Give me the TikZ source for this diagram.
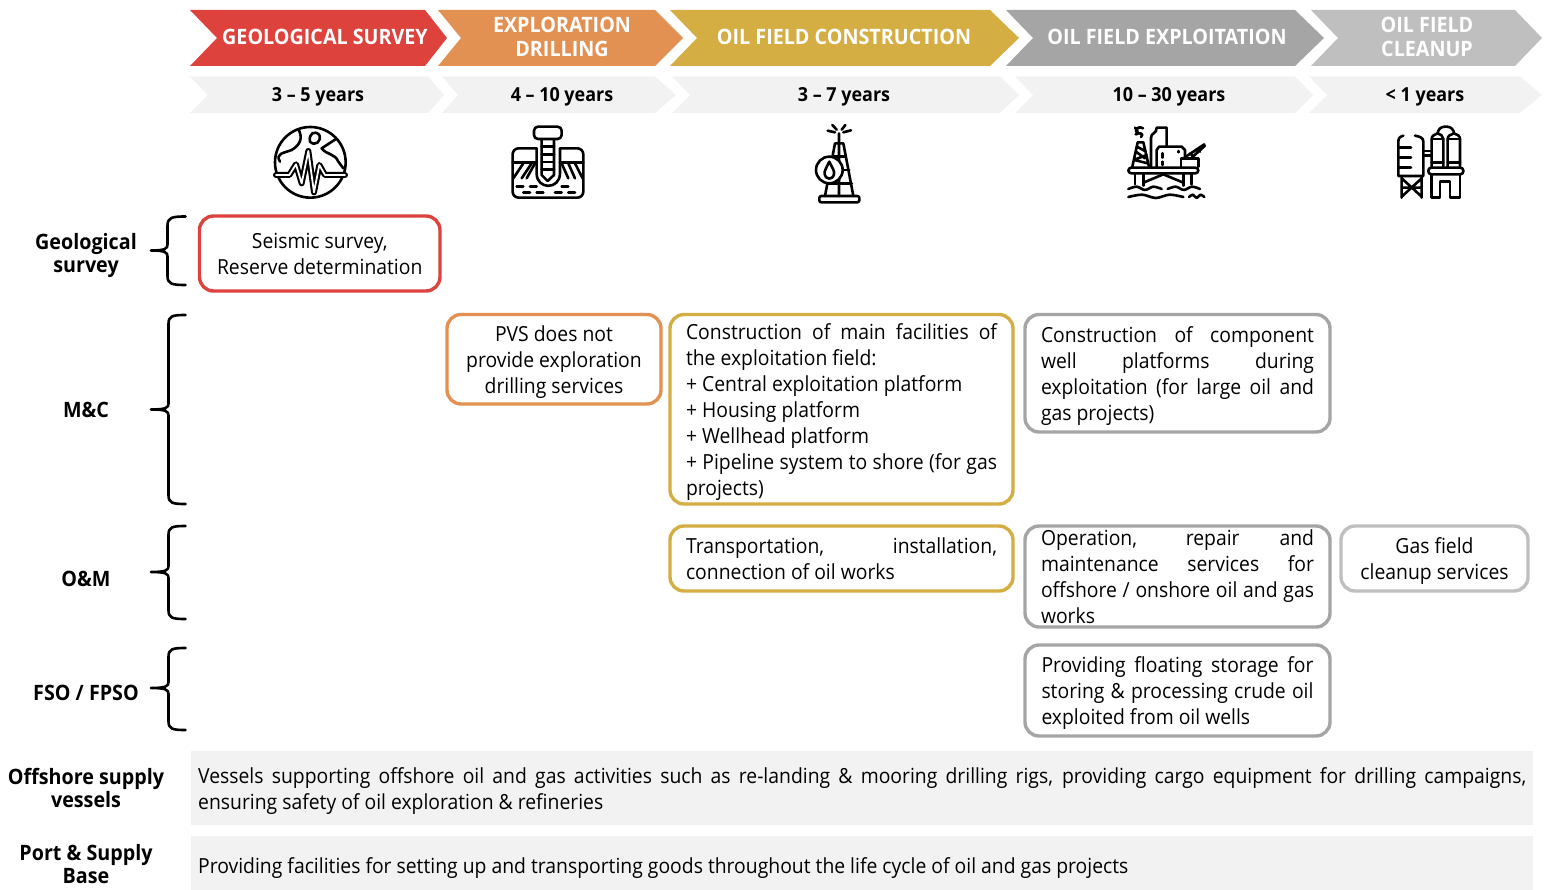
\documentclass[tikz,border=0pt]{standalone}
\usepackage{fontspec}
\setmainfont{Open Sans}[FakeStretch=0.93]
\usetikzlibrary{calc}
\definecolor{cred}{HTML}{DD423C}
\definecolor{corange}{HTML}{E39153}
\definecolor{cgold}{HTML}{D4AE42}
\definecolor{cgray}{HTML}{A5A5A5}
\definecolor{clight}{HTML}{BFBFBF}
\definecolor{cpale}{HTML}{F2F2F2}
\newcommand{\jl}[2][\linewidth]{\makebox[#1][s]{#2}}
\newcommand{\dn}[2][8pt]{\raisebox{-#1}[0pt][0pt]{#2}}
\tikzset{
  hdr/.style={font=\fontsize{21.2}{23.5}\selectfont\bfseries,text=white,align=center,inner sep=0pt},
  yrs/.style={font=\fontsize{19.3}{22}\selectfont\bfseries,text=black,inner sep=0pt},
  lbl/.style={font=\fontsize{21.2}{23}\selectfont\bfseries,text=black,align=center,inner sep=0pt},
  body/.style={font=\fontsize{20.8}{26}\selectfont,text=black},
  card/.style={body,draw=#1,line width=3.4pt,rounded corners=14pt,fill=white,inner sep=0pt,outer sep=0pt},
  brc/.style={draw=black,line width=2.6pt,line cap=round},
  ico/.style={draw=black,line width=2.6pt,line cap=round,line join=round},
  icobox/.style={shift={(#1)},x=0.3333pt,y=-0.3333pt},
}
\newcommand{\cardnode}[7]{% name, colour, x1,y1,x2,y2, text
  \node[card=#2,minimum width=#5pt-#3pt,minimum height=#6pt-#4pt,anchor=north west] (#1) at (#3,#4) {\dn{#7}};}
\newcommand{\mybrace}[5]{% name, x spine, top, mid, bottom
  \coordinate (bt#1) at (185.5,#3); \coordinate (bb#1) at (185.5,#5); \coordinate (bm#1) at (151,#4);
  \draw[brc] (bt#1) .. controls (172,#3) and (#2,#3+1) .. (#2,#3+9) -- (#2,#4-6)
    .. controls (#2,#4-2) and (#2-2,#4) .. (bm#1)
    (bm#1) .. controls (#2-2,#4) and (#2,#4+2) .. (#2,#4+6) -- (#2,#5-9)
    .. controls (#2,#5-1) and (172,#5) .. (bb#1);}
\begin{document}
\begin{tikzpicture}[x=1pt,y=-1pt]
\useasboundingbox (0,0) rectangle (1546,890);
% header chevrons
\fill[cred] (190,10)--(425,10)--(447,38)--(425,66)--(190,66)--(217,38)--cycle;
\fill[corange] (438,10)--(655,10)--(683,38)--(655,66)--(438,66)--(461,38)--cycle;
\fill[cgold] (670,10)--(990,10)--(1019,38)--(990,66)--(670,66)--(697,38)--cycle;
\fill[cgray] (1006,10)--(1295,10)--(1324,38)--(1295,66)--(1006,66)--(1033,38)--cycle;
\fill[clight] (1311,10)--(1515,10)--(1542,38)--(1515,66)--(1311,66)--(1338,38)--cycle;
\node[hdr] (h1) at (325,37) {GEOLOGICAL SURVEY};
\node[hdr] (h2) at (562,37) {EXPLORATION\\DRILLING};
\node[hdr] (h3) at (844,37) {OIL FIELD CONSTRUCTION};
\node[hdr] (h4) at (1167,37) {OIL FIELD EXPLOITATION};
\node[hdr] (h5) at (1427,37) {OIL FIELD\\CLEANUP};
% duration chevrons
\fill[cpale] (190,76.5)--(428,76.5)--(444,95)--(428,113)--(190,113)--(208,95)--cycle;
\fill[cpale] (442,76.5)--(655,76.5)--(676,95)--(655,113)--(442,113)--(458,95)--cycle;
\fill[cpale] (672,76.5)--(1000,76.5)--(1019,95)--(1000,113)--(672,113)--(690,95)--cycle;
\fill[cpale] (1015,76.5)--(1295,76.5)--(1313,95)--(1295,113)--(1015,113)--(1033,95)--cycle;
\fill[cpale] (1309,76.5)--(1520,76.5)--(1542,95)--(1520,113)--(1309,113)--(1327,95)--cycle;
\node[yrs] (y1) at (318,97) {3 – 5 years};
\node[yrs] (y2) at (562,97) {4 – 10 years};
\node[yrs] (y3) at (844,97) {3 – 7 years};
\node[yrs] (y4) at (1169,97) {10 – 30 years};
\node[yrs] (y5) at (1425,97) {< 1 years};
% globe icon
\begin{scope}[icobox={260,115}]
\draw[ico] (151,142) circle[radius=106];
\draw[ico] (115,42) .. controls (130,70) and (120,90) .. (95,105) .. controls (70,115) and (45,115) .. (60,140);
\draw[ico] (150,80) .. controls (145,55) and (165,45) .. (178,60) .. controls (185,80) and (165,95) .. (150,80) -- cycle;
\draw[ico] (228,72) -- (185,100) .. controls (200,120) and (225,115) .. (235,140) -- (250,160);
\draw[line width=6pt,black,line cap=round,line join=round] (48,180) -- (88,180) -- (108,148) -- (125,205) -- (145,108) -- (162,232) -- (178,150) -- (195,180) -- (255,180);
\draw[line width=1.8pt,white,line cap=round,line join=round] (48,180) -- (88,180) -- (108,148) -- (125,205) -- (145,108) -- (162,232) -- (178,150) -- (195,180) -- (255,180);
\end{scope}
% drill icon
\begin{scope}[icobox={260,115}]
\draw[ico,rounded corners=6pt] (830,100) -- (758,100) -- (758,248) -- (970,248) -- (970,100) -- (900,100);
\draw[ico] (758,142) -- (830,142) (900,142) -- (970,142);
\draw[ico,rounded corners=4pt] (822,35) rectangle (905,72);
\draw[ico] (830,100) -- (830,175) .. controls (830,225) and (900,225) .. (900,175) -- (900,100);
\draw[ico] (845,72) -- (845,180) -- (863,198) -- (882,180) -- (882,72);
\foreach \yy in {95,118,141,164} \draw[ico] (845,\yy) -- (882,\yy);
\foreach \xa/\xb in {760/790,785/815,800/825} \draw[ico] (\xa,190) -- (\xb,145);
\foreach \xa/\xb in {905/925,925/945,945/968} \draw[ico] (\xb,190) -- (\xa,145);
\foreach \xa/\ya in {770/215,810/215,905/215,790/232,830/232,885/232,925/232} \draw[ico] (\xa,\ya) -- ++(20,0);
\end{scope}
% derrick icon
\begin{scope}[icobox={800,115}]
\draw[ico,rounded corners=2pt] (58,243) rectangle (178,262);
\draw[ico] (105,85) -- (75,243) (130,85) -- (160,243) (105,85) -- (130,85) (117,55) -- (117,85) (117,85) -- (117,243);
\draw[ico] (100,125) -- (137,125) (120,165) -- (148,165) (85,205) -- (155,205);
\draw[ico,fill=white] (88,165) circle[radius=40];
\draw[ico] (88,140) .. controls (98,160) and (104,170) .. (102,176) .. controls (100,196) and (76,196) .. (74,176) .. controls (72,170) and (78,160) .. (88,140) -- cycle;
\draw[ico] (83,47) -- (105,52) (97,30) -- (110,44) (125,44) -- (136,30) (130,52) -- (153,46);
\end{scope}
% platform icon
\begin{scope}[icobox={1115,115}]
\draw[ico,rounded corners=3pt] (40,158) rectangle (250,175);
\draw[ico] (60,175) -- (60,208) (85,175) -- (85,212) (205,175) -- (205,212) (230,175) -- (230,208);
\draw[ico] (85,203) -- (145,178) -- (205,203);
\foreach \xa/\xb/\yy in {40/140/222,158/255/222,40/205/246,222/268/246}
  \draw[ico] plot[smooth] coordinates {(\xa,\yy) ({\xa+(\xb-\xa)/4},\yy-7) ({\xa+(\xb-\xa)/2},\yy+3) ({\xa+3*(\xb-\xa)/4},\yy-7) (\xb,\yy)};
\draw[ico] (52,155) -- (68,82) -- (85,82) -- (102,155) (56,135) -- (95,120) (63,110) -- (90,130) (58,135) -- (98,145) (66,95) -- (88,107);
\draw[ico] (84,40) .. controls (66,30) and (54,50) .. (70,54) (62,58) .. controls (72,52) and (90,55) .. (78,66) (60,38) -- (68,48);
\draw[ico] (108,155) -- (108,68) .. controls (108,52) and (125,58) .. (125,38) -- (155,38) -- (155,92);
\draw[ico] (125,155) -- (125,105) -- (132,95) -- (200,95) -- (210,105) -- (210,122);
\draw[ico] (143,115) -- (143,128) (143,140) -- (143,150) (190,108) -- (190,112);
\draw[ico] (198,155) -- (198,130) -- (250,130) -- (250,155);
\draw[ico] (205,130) -- (268,88) (228,130) -- (270,92) (225,115) -- (235,125) (245,102) -- (255,110);
\end{scope}
% cleanup icon
\begin{scope}[icobox={1385,115}]
\draw[ico] (55,62) .. controls (44,65) and (40,70) .. (40,80) -- (40,183) -- (115,183) -- (115,80) .. controls (115,70) and (108,65) .. (90,62);
\draw[ico] (40,97) -- (78,97) (40,127) -- (78,127) (40,157) -- (78,157);
\draw[ico] (50,183) -- (50,248) (110,183) -- (110,248) (50,190) -- (110,245) (110,190) -- (50,245) (50,218) -- (110,218);
\draw[ico] (115,108) -- (140,108) (115,122) -- (140,122);
\draw[ico] (140,155) -- (140,72) .. controls (140,62) and (150,58) .. (158,55) .. controls (166,58) and (175,62) .. (175,72) -- (175,155);
\draw[ico] (188,155) -- (188,72) .. controls (188,62) and (198,58) .. (207,55) .. controls (215,58) and (225,62) .. (225,72) -- (225,155);
\draw[ico] (140,72) -- (175,72) (188,72) -- (225,72) (140,142) -- (175,142) (188,142) -- (225,142);
\draw[ico,rounded corners=3pt] (130,158) rectangle (235,178);
\draw[ico,rounded corners=7pt] (158,55) -- (158,35) -- (207,35) -- (207,55);
\draw[ico] (140,178) -- (140,248) -- (165,248) -- (165,200) -- (195,200) -- (195,248) -- (225,248) -- (225,178);
\end{scope}
% braces
\mybrace{A}{167.5}{216.5}{250.5}{285}
\mybrace{B}{168.5}{315}{409.5}{504}
\mybrace{C}{168.5}{526}{572}{619}
\mybrace{D}{168.5}{648}{688}{730}
% row labels
\node[lbl] (l1) at (86,255.5) {Geological\\survey};
\node[lbl] (l2) at (86,410) {M\&C};
\node[lbl] (l3) at (86,579) {O\&M};
\node[lbl] (l4) at (86,693) {FSO / FPSO};
\node[lbl] (l5) at (86,787.5) {Offshore supply\\vessels};
\node[lbl] (l6) at (86,864.5) {Port \& Supply\\Base};
% cards
\cardnode{c1}{cred}{199.5}{216}{440}{291}{\begin{tabular}{@{}c@{}}Seismic survey,\\Reserve determination\end{tabular}}
\cardnode{c2}{corange}{447}{314.5}{661}{404}{\begin{tabular}{@{}c@{}}PVS does not\\provide exploration\\drilling services\end{tabular}}
\cardnode{c3}{cgold}{670}{314.5}{1013}{504}{\begin{tabular}{@{}l@{}}\jl[311pt]{Construction of main facilities of}\\the exploitation field:\\+ Central exploitation platform\\+ Housing platform\\+ Wellhead platform\\\jl[311pt]{+ Pipeline system to shore (for gas}\\projects)\end{tabular}}
\cardnode{c4}{cgray}{1025}{314.5}{1330}{432}{\begin{tabular}{@{}l@{}}\jl[273pt]{Construction of component}\\\jl[273pt]{well platforms during}\\\jl[273pt]{exploitation (for large oil and}\\gas projects)\end{tabular}}
\cardnode{c5}{cgold}{670}{526}{1013}{591}{\begin{tabular}{@{}l@{}}\jl[311pt]{Transportation, installation,}\\connection of oil works\end{tabular}}
\cardnode{c6}{cgray}{1025}{526}{1330}{627}{\begin{tabular}{@{}l@{}}\jl[273pt]{Operation, repair and}\\\jl[273pt]{maintenance services for}\\\jl[273pt]{offshore / onshore oil and gas}\\works\end{tabular}}
\cardnode{c7}{clight}{1341}{526}{1528}{591}{\begin{tabular}{@{}c@{}}Gas field\\cleanup services\end{tabular}}
\cardnode{c8}{cgray}{1025}{645}{1330}{736}{\begin{tabular}{@{}l@{}}\jl[272pt]{Providing floating storage for}\\\jl[272pt]{storing \& processing crude oil}\\exploited from oil wells\end{tabular}}
% bands
\node[body,fill=cpale,inner sep=0pt,minimum width=1342pt,minimum height=74pt,anchor=north west] (b5) at (191,751) {\dn{\begin{tabular}{@{}l@{}}\jl[1328pt]{Vessels supporting offshore oil and gas activities such as re-landing \& mooring drilling rigs, providing cargo equipment for drilling campaigns,}\\ensuring safety of oil exploration \& refineries\end{tabular}}};
\node[body,fill=cpale,inner sep=0pt,minimum width=1342pt,minimum height=54pt,anchor=north west] (b6) at (191,836) {\dn[10pt]{\begin{tabular}{@{}l@{}}\makebox[1328pt][l]{Providing facilities for setting up and transporting goods throughout the life cycle of oil and gas projects}\end{tabular}}};
\end{tikzpicture}
\end{document}
